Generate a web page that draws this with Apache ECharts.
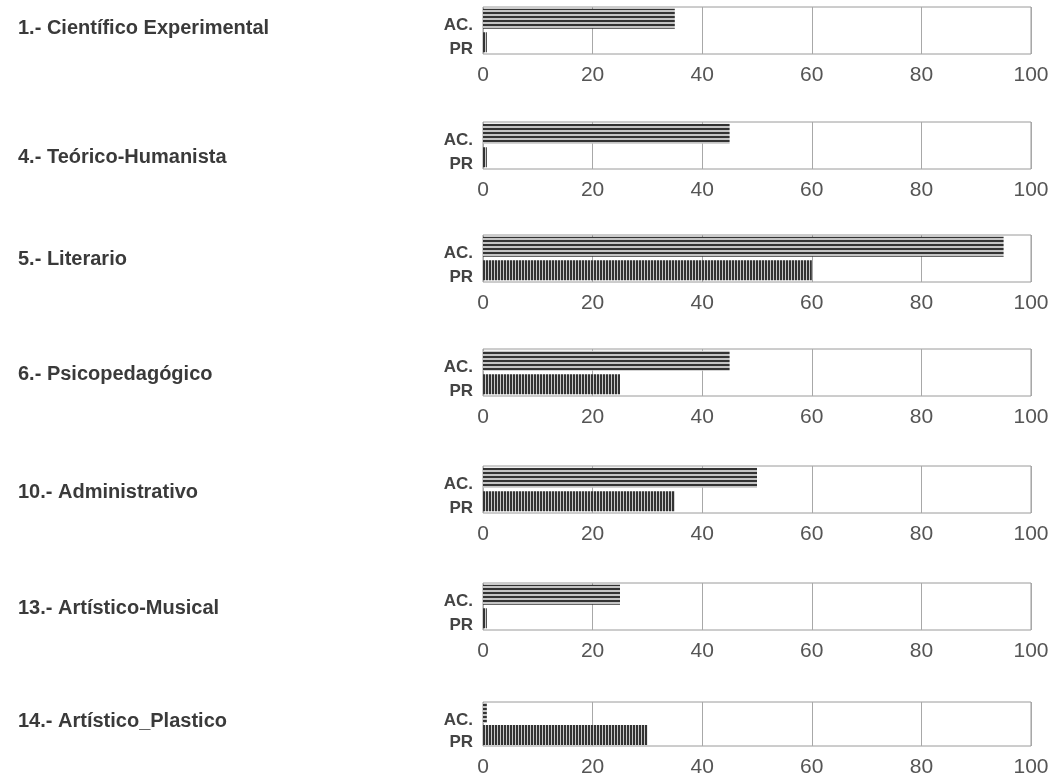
<!DOCTYPE html>
<html><head><meta charset="utf-8">
<script src="https://cdn.jsdelivr.net/npm/echarts@6/dist/echarts.min.js"></script>
<style>html,body{margin:0;padding:0;background:#fff}#c{width:1052px;height:778px}</style>
</head><body><div id="c"></div>
<script>
const categories = ['1.- Científico Experimental','4.- Teórico-Humanista','5.- Literario','6.- Psicopedagógico','10.- Administrativo','13.- Artístico-Musical','14.- Artístico_Plastico'];
const rowLabels = ['AC.','PR'];
const acValues = [35, 45, 95, 45, 50, 25, 0.7];
const prValues = [0.7, 0.7, 60, 25, 35, 0.7, 30];
const tickValues = [0, 20, 40, 60, 80, 100];

function pattern(w, h, draw){
  const c = document.createElement('canvas'); c.width = w; c.height = h;
  const g = c.getContext('2d'); draw(g); return c;
}
const hPat = pattern(4, 4, g => { g.fillStyle = '#c4c4c4'; g.fillRect(0,0,4,4); g.fillStyle = '#333'; g.fillRect(0,0,4,2); });
const vPat = pattern(3, 3, g => { g.fillStyle = '#c8c8c8'; g.fillRect(0,0,3,3); g.fillStyle = '#333'; g.fillRect(0,0,2,3); });

const gridTops = [7, 122, 235, 349, 466, 583, 702];
const titleCenters = [25, 154, 256, 371, 489, 605, 718];
const grids = [], xAxes = [], yAxes = [], series = [], titles = [];
categories.forEach((name, i) => {
  grids.push({left: 483, right: 21, top: gridTops[i], height: 47, show: true, borderColor: '#9a9a9a', borderWidth: 1});
  xAxes.push({type: 'value', gridIndex: i, min: 0, max: 100, interval: 20,
    axisLine: {show: false}, axisTick: {show: false},
    splitLine: {show: true, lineStyle: {color: '#a8a8a8', width: 1}},
    axisLabel: {margin: 11, fontSize: 21, color: '#555', fontFamily: 'Liberation Sans, Arial', formatter: v => tickValues.includes(v) ? String(v) : ''}});
  yAxes.push({type: 'category', gridIndex: i, data: rowLabels, inverse: true,
    axisLine: {show: false}, axisTick: {show: false}, splitLine: {show: false},
    axisLabel: {interval: 0, margin: 10, fontSize: 17, lineHeight: 14, verticalAlign: 'top', fontWeight: 'bold', color: '#444', fontFamily: 'Liberation Sans, Arial'}});
  series.push({type: 'bar', xAxisIndex: i, yAxisIndex: i, barWidth: 20, barGap: '5%', silent: true,
    data: [
      {value: acValues[i], itemStyle: {color: {image: hPat, repeat: 'repeat'}}},
      {value: prValues[i], itemStyle: {color: {image: vPat, repeat: 'repeat'}}}
    ]});
  titles.push({text: name, left: 13, top: titleCenters[i] - 12,
    textStyle: {fontSize: 20, fontWeight: 'bold', color: '#3a3a3a', fontFamily: 'Liberation Sans, Arial'}});
});

const chart = echarts.init(document.getElementById('c'));
chart.setOption({animation: false, title: titles, grid: grids, xAxis: xAxes, yAxis: yAxes, series: series});
</script></body></html>
